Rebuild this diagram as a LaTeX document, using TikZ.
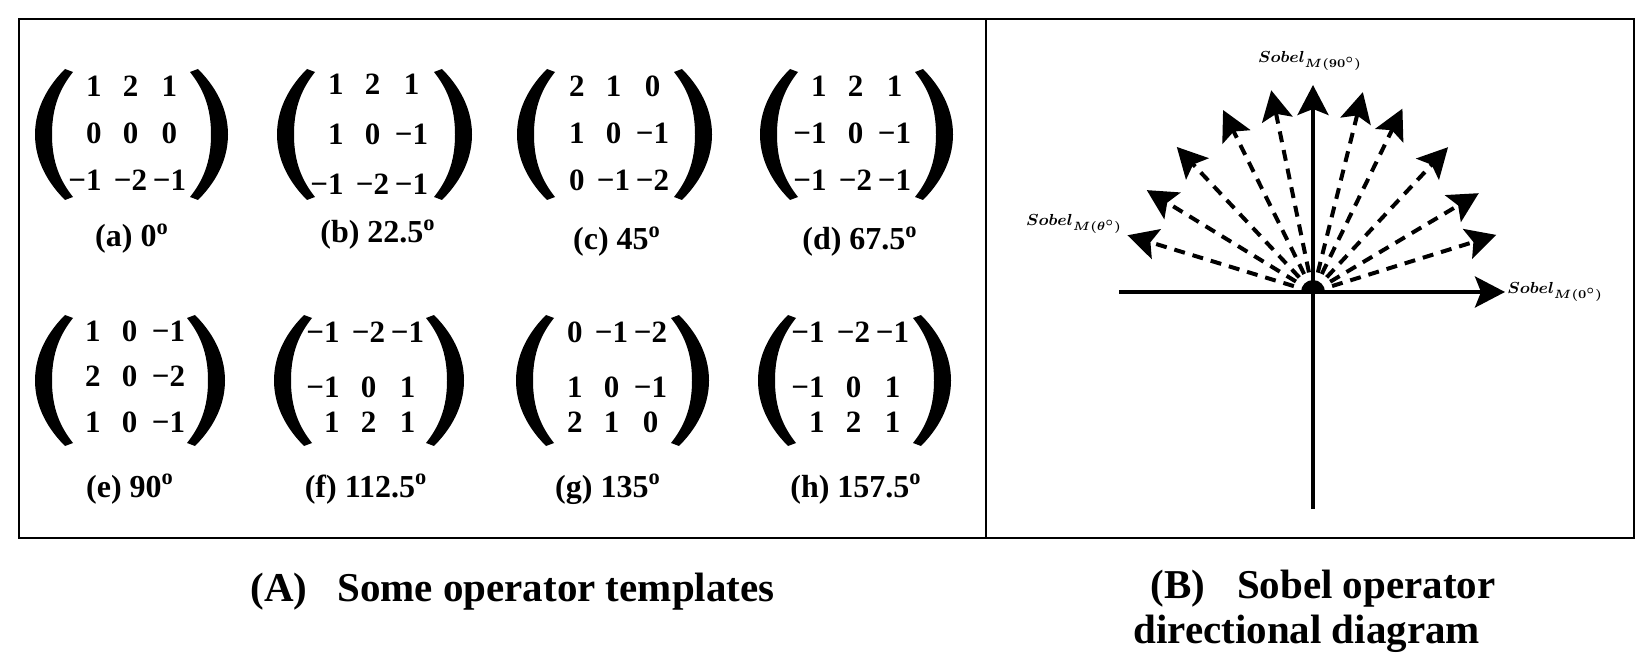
\documentclass[tikz,border=0pt]{standalone}
\usepackage{fontspec}
\setmainfont{Liberation Serif}
\usepackage{bm}
\usetikzlibrary{arrows.meta,matrix}
\tikzset{
  frame/.style={line width=1.1pt},
  axis/.style={line width=1.9pt, -{Stealth[length=15pt,width=15.5pt,inset=3pt]}},
  dasharrow/.style={line width=2pt, dash pattern=on 5.5pt off 4pt, -{Stealth[length=15pt,width=15.5pt,inset=3pt]}},
  lab/.style={inner sep=0pt, font=\fontsize{8.5}{10}\selectfont},
  sub/.style={inner sep=0pt, anchor=base, font=\bfseries\fontsize{16}{18}\selectfont},
  bigcap/.style={inner sep=0pt, anchor=base west, font=\bfseries\fontsize{20.5}{24}\selectfont},
  mat/.style={matrix of nodes, inner sep=0pt, anchor=north, column sep=2.5pt, row sep=13pt,
    nodes={inner sep=0pt, text width=17pt, align=center, text height=10.5pt, text depth=0pt,
      font=\bfseries\fontsize{15.5}{17}\selectfont},
    column 1/.style={nodes={align=right}}},
  lpar/.pic={\fill (30,0) .. controls (8,22) and (0,45) .. (0,65.5) .. controls (0,86) and (8,109) .. (30,131)
      -- (38,128) .. controls (22,108) and (17,88) .. (17,65.5) .. controls (17,43) and (22,23) .. (38,3) -- cycle;},
  rpar/.pic={\fill[xscale=-1] (30,0) .. controls (8,22) and (0,45) .. (0,65.5) .. controls (0,86) and (8,109) .. (30,131)
      -- (38,128) .. controls (22,108) and (17,88) .. (17,65.5) .. controls (17,43) and (22,23) .. (38,3) -- cycle;}
}
\begin{document}
\begin{tikzpicture}[x=0.5pt,y=-0.5pt]
\useasboundingbox (0,0) rectangle (1650,668);
% frame
\draw[frame] (19,19) rectangle (1634,538);
\draw[frame] (986,19) -- (986,538);

% ---------- row 1 ----------
\pic at (35,69) {lpar};  \pic at (228,69) {rpar};
\matrix (ma) [mat] at (127,75) {
  1 &[3.5pt] 2 & 1 \\
  0 & 0 & 0 \\
  −1 & −2 & −1 \\
};
\node[sub] (ca) at (132,247) {(a) 0\textsuperscript{o}};

\pic at (277,69) {lpar};  \pic at (472,69) {rpar};
\matrix (mb) [mat] at (369,73) {
  1 &[3.5pt] 2 & 1 \\[1.5pt]
  1 & 0 & −1 \\[1.5pt]
  −1 & −2 & −1 \\
};
\node[sub] (cb) at (378,243) {(b) 22.5\textsuperscript{o}};

\pic at (517,69) {lpar};  \pic at (712,69) {rpar};
\matrix (mc) [mat] at (610,75) {
  2 &[3.5pt] 1 & 0 \\
  1 & 0 & −1 \\
  0 & −1 & −2 \\
};
\node[sub] (cc) at (617,250) {(c) 45\textsuperscript{o}};

\pic at (760,69) {lpar};  \pic at (953,69) {rpar};
\matrix (md) [mat] at (852,75) {
  1 &[3.5pt] 2 & 1 \\
  −1 & 0 & −1 \\
  −1 & −2 & −1 \\
};
\node[sub] (cd) at (860,250) {(d) 67.5\textsuperscript{o}};

% ---------- row 2 ----------
\pic at (35,315) {lpar};  \pic at (225,315) {rpar};
\matrix (me) [mat] at (126,320) {
  1 &[3.5pt] 0 & −1 \\[-1pt]
  2 & 0 & −2 \\[-0.5pt]
  1 & 0 & −1 \\
};
\node[sub] (ce) at (130,497) {(e) 90\textsuperscript{o}};

\pic at (274,315) {lpar};  \pic at (464,315) {rpar};
\matrix (mf) [mat] at (365,321) {
  −1 &[3.5pt] −2 & −1 \\[4pt]
  −1 & 0 & 1 \\[-6pt]
  1 & 2 & 1 \\
};
\node[sub] (cf) at (366,497) {(f) 112.5\textsuperscript{o}};

\pic at (516,315) {lpar};  \pic at (709,315) {rpar};
\matrix (mg) [mat] at (608,321) {
  0 &[3.5pt] −1 & −2 \\[4pt]
  1 & 0 & −1 \\[-6pt]
  2 & 1 & 0 \\
};
\node[sub] (cg) at (608,497) {(g) 135\textsuperscript{o}};

\pic at (758,315) {lpar};  \pic at (951,315) {rpar};
\matrix (mh) [mat] at (850,321) {
  −1 &[3.5pt] −2 & −1 \\[4pt]
  −1 & 0 & 1 \\[-6pt]
  1 & 2 & 1 \\
};
\node[sub] (ch) at (856,497) {(h) 157.5\textsuperscript{o}};

% ---------- right panel ----------
\coordinate (O) at (1313,292);
\coordinate (xl) at (1119,292);
\coordinate (xr) at (1505,292);
\coordinate (yb) at (1313,509);
\coordinate (yt) at (1313,85);
\foreach \a/\r [count=\i] in {17.3/192, 30.8/193, 47/198, 64/204, 76/206,
    101.7/206, 116.3/203, 133.2/199, 148.5/195, 163/194} {
  \coordinate (s\i) at ([shift={(-\a:20)}]O);
  \coordinate (t\i) at ([shift={(-\a:\r)}]O);
  \draw[dasharrow] (s\i) -- (t\i);
}
\draw[axis] (xl) -- (xr);
\draw[axis] (yb) -- (yt);
\fill ([shift={(12,0)}]O) arc[start angle=0, end angle=-180, radius=12] -- cycle;
\node[lab] (l90) at (1310,61) {$\bm{Sobel_{M(90^{\circ})}}$};
\node[lab, anchor=west] (l0) at (1507,292) {$\bm{Sobel_{M(0^{\circ})}}$};
\node[lab] (lt) at (1074,224) {$\bm{Sobel_{M(\theta^{\circ})}}$};

% ---------- captions ----------
\node[bigcap] (capA) at (250,601) {(A)\hspace{15pt}Some operator templates};
\node[bigcap] (capB1) at (1150,598) {(B)\hspace{16pt}Sobel operator};
\node[bigcap] (capB2) at (1133,643) {directional diagram};
\end{tikzpicture}
\end{document}
